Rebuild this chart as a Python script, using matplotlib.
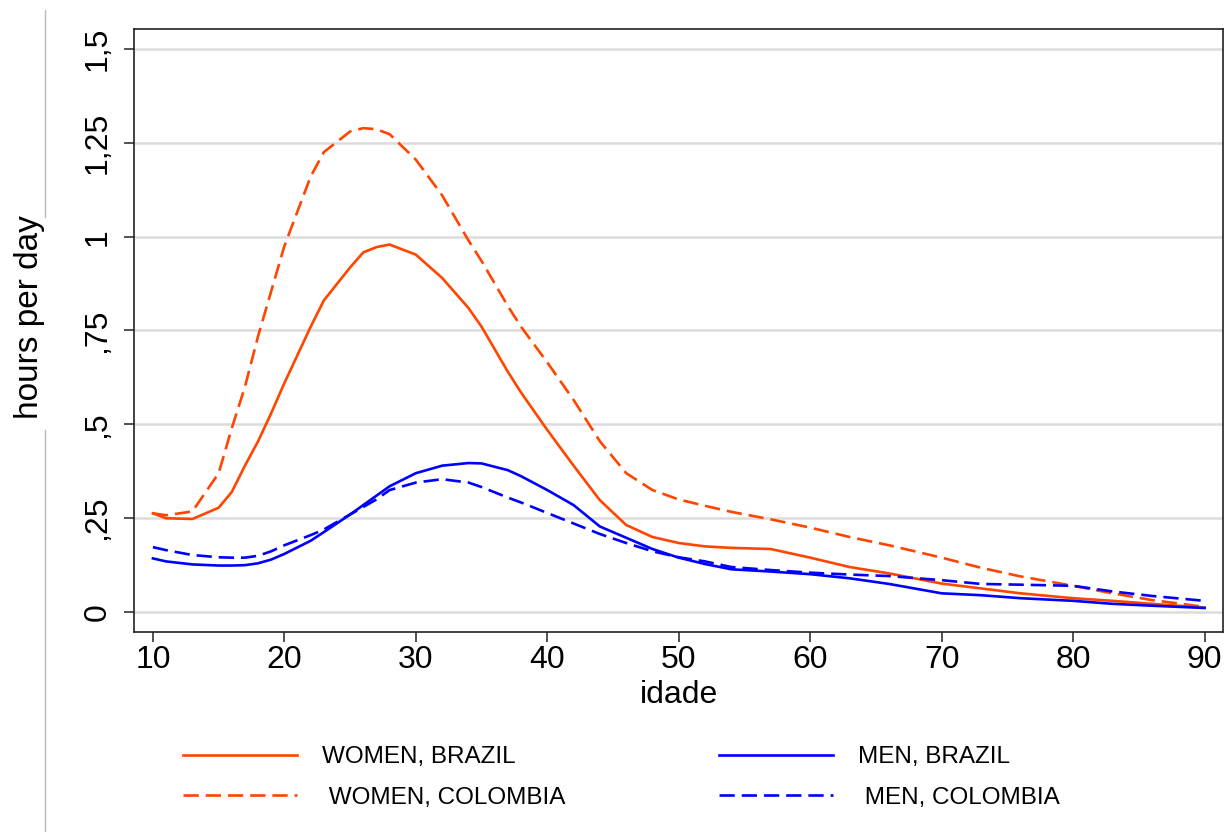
import matplotlib
matplotlib.use('Agg')
import matplotlib.pyplot as plt
from matplotlib.lines import Line2D

plt.rcParams['font.family'] = ['Liberation Sans', 'DejaVu Sans']
plt.rcParams['lines.scale_dashes'] = False

# age grid and the four smoothed series (hours per day)
ages = [10, 11, 13, 15, 16, 17, 18, 19, 20, 22, 23, 25, 26, 27, 28, 30, 32, 34, 35, 37,
        38, 40, 42, 44, 46, 48, 50, 52, 54, 57, 60, 63, 66, 70, 73, 76, 80, 83, 86, 90]

women_brazil = [0.263, 0.250, 0.248, 0.278, 0.320, 0.390, 0.455, 0.530, 0.610, 0.760,
                0.830, 0.918, 0.958, 0.972, 0.979, 0.952, 0.890, 0.810, 0.760, 0.640,
                0.585, 0.485, 0.390, 0.298, 0.232, 0.200, 0.184, 0.175, 0.171, 0.168,
                0.145, 0.120, 0.103, 0.076, 0.063, 0.050, 0.037, 0.030, 0.022, 0.012]

women_colombia = [0.263, 0.258, 0.268, 0.370, 0.490, 0.600, 0.735, 0.855, 0.975, 1.160,
                  1.225, 1.280, 1.289, 1.286, 1.273, 1.205, 1.110, 0.990, 0.935, 0.815,
                  0.760, 0.665, 0.565, 0.455, 0.370, 0.325, 0.300, 0.283, 0.267, 0.247,
                  0.225, 0.200, 0.178, 0.145, 0.118, 0.095, 0.070, 0.050, 0.032, 0.014]

men_brazil = [0.143, 0.135, 0.127, 0.124, 0.124, 0.125, 0.130, 0.140, 0.155, 0.190,
              0.213, 0.260, 0.285, 0.310, 0.335, 0.370, 0.390, 0.397, 0.396, 0.378,
              0.362, 0.325, 0.285, 0.228, 0.198, 0.168, 0.145, 0.128, 0.114, 0.108,
              0.101, 0.090, 0.075, 0.050, 0.045, 0.037, 0.030, 0.022, 0.017, 0.011]

men_colombia = [0.173, 0.165, 0.152, 0.146, 0.145, 0.145, 0.150, 0.162, 0.178, 0.205,
                0.220, 0.260, 0.280, 0.300, 0.325, 0.345, 0.354, 0.345, 0.333, 0.305,
                0.292, 0.264, 0.236, 0.208, 0.184, 0.162, 0.146, 0.135, 0.120, 0.112,
                0.105, 0.100, 0.096, 0.085, 0.075, 0.073, 0.070, 0.055, 0.043, 0.030]

yticks = [0, 0.25, 0.5, 0.75, 1, 1.25, 1.5]
ytick_labels = ['0', ',25', ',5', ',75', '1', '1,25', '1,5']
xticks = [10, 20, 30, 40, 50, 60, 70, 80, 90]

orange = '#ff4500'
blue = '#0000ff'
W, H = 1224, 832

fig = plt.figure(figsize=(12.24, 8.32), dpi=100)
ax = fig.add_axes([134 / W, 1 - 632 / H, (1223 - 134) / W, (632 - 29) / H])

ax.plot(ages, women_brazil, color=orange, lw=1.9, label='WOMEN, BRAZIL', zorder=3)
ax.plot(ages, women_colombia, color=orange, lw=1.9, dashes=(11, 5),
        label=' WOMEN, COLOMBIA', zorder=3)
ax.plot(ages, men_brazil, color=blue, lw=1.9, label='MEN, BRAZIL', zorder=3)
ax.plot(ages, men_colombia, color=blue, lw=1.9, dashes=(11, 5),
        label=' MEN, COLOMBIA', zorder=3)

ax.set_xlim(8.56, 91.4)
ax.set_ylim(-0.053, 1.553)
ax.set_yticks(yticks)
ax.set_yticklabels(ytick_labels, rotation=90, va='center')
ax.set_xticks(xticks)
ax.yaxis.grid(True, color='#dcdcdc', lw=1.8, zorder=0)
ax.set_axisbelow(True)

for s in ax.spines.values():
    s.set_color('#222222')
    s.set_linewidth(1.2)
ax.tick_params(axis='both', direction='out', length=7.5, width=1.1, color='#222222',
               labelsize=23)
ax.tick_params(axis='y', pad=8)
ax.tick_params(axis='x', pad=2)

fig.text(30 / W, 1 - 317 / H, 'hours per day', rotation=90, ha='center', va='center',
         fontsize=24)
fig.text(679 / W, 1 - 695 / H, 'idade', ha='center', va='center', fontsize=23)

# thin grey rule at the left edge of the graph region
fig.add_artist(Line2D([45 / W, 45 / W], [1 - 10 / H, 1 - 217 / H], color='#bbbbbb', lw=1))
fig.add_artist(Line2D([45 / W, 45 / W], [1 - 430 / H, 0], color='#bbbbbb', lw=1))

handles, labels = ax.get_legend_handles_labels()
leg_kw = dict(frameon=False, fontsize=17.5, handlelength=4.7, handletextpad=1.03,
              labelspacing=0.77, borderpad=0, borderaxespad=0, loc='upper left')
fig.legend(handles[:2], labels[:2], bbox_to_anchor=(183 / W, 1 - 746 / H), **leg_kw)
fig.legend(handles[2:], labels[2:], bbox_to_anchor=(719 / W, 1 - 746 / H), **leg_kw)

fig.savefig('out.png', dpi=100)
